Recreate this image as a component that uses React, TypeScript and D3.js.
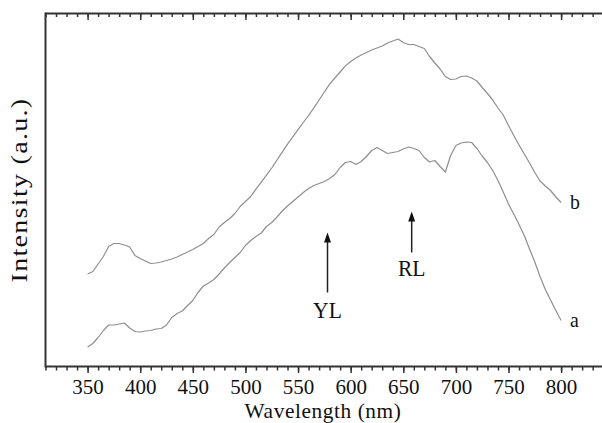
import React, { useEffect, useRef } from 'react';
import * as d3 from 'd3';

// wavelength grid (nm)
const wavelengths = [
  350, 355, 360, 365, 370, 375, 380, 385, 390, 395,
  400, 405, 410, 415, 420, 425, 430, 435, 440, 445,
  450, 455, 460, 465, 470, 475, 480, 485, 490, 495,
  500, 505, 510, 515, 520, 525, 530, 535, 540, 545,
  550, 555, 560, 565, 570, 575, 580, 585, 590, 595,
  600, 605, 610, 615, 620, 625, 630, 635, 640, 645,
  650, 655, 660, 665, 670, 675, 680, 685, 690, 695,
  700, 705, 710, 715, 720, 725, 730, 735, 740, 745,
  750, 755, 760, 765, 770, 775, 780, 785, 790, 795,
  800,
];

// spectrum a (lower curve), arbitrary units
const seriesA = [
  19.5, 23, 29, 36, 41.5, 41.5, 42.5, 43.5, 38.5, 35,
  34.5, 35.5, 36, 37.5, 38, 41.5, 49, 53, 55.5, 61,
  66, 74, 80.5, 83.5, 87, 92.5, 98.5, 104, 109, 114,
  121, 126, 130, 133.5, 140, 144, 149.5, 155.5, 160.5, 165,
  169.5, 174, 178, 181, 183, 185, 188, 192, 199, 204,
  205, 202, 205, 210, 216, 219, 216, 213, 214, 215,
  217.5, 219.5, 218, 216, 209, 204.5, 206, 200, 194.5, 211,
  221, 223.5, 224.5, 224, 218, 210.5, 204, 196, 186, 174.5,
  162.5, 152.5, 142, 131, 117.5, 104.5, 90, 77, 66.5, 56,
  46,
];

// spectrum b (upper curve), arbitrary units
const seriesB = [
  92.5, 95, 102.5, 110, 120, 123, 123, 121.5, 119.5, 111,
  108, 105.5, 103, 103.5, 104.5, 106, 107.5, 109.5, 112, 114.5,
  117, 120, 123, 128, 132, 139.5, 144, 148, 153, 160,
  165, 170, 177.3, 184.3, 191.3, 198.5, 206.5, 214.3, 222.3, 229.7,
  236.8, 244, 251, 258.7, 266.5, 274.5, 282.4, 288.5, 294.5, 300.6,
  305, 308.5, 311.5, 314, 316.5, 318.5, 320.5, 323.5, 325.5, 327.5,
  324, 322, 322, 320, 318, 310, 303.5, 297.5, 290, 287,
  287.5, 290, 290.5, 288.5, 285.5, 279, 273, 266.5, 258.5, 251.5,
  241, 231, 221.5, 212.5, 203.5, 194, 185.5, 180.5, 176, 169.5,
  164,
];

const majorTicks = [350, 400, 450, 500, 550, 600, 650, 700, 750, 800];

// arrow annotations (wavelength, tail, tip, label baseline)
const arrowLabels = ['YL', 'RL'];
const arrowWl = [578, 658];
const arrowTail = [74, 114];
const arrowTip = [134, 155];
const arrowText = [49, 91];

const FONT = '"Liberation Serif", "Times New Roman", serif';

const App = () => {
  const svgRef = useRef<SVGSVGElement>(null);

  useEffect(() => {
    const svg = d3.select(svgRef.current);
    svg.selectAll('*').remove();

    const width = 602;
    const height = 423;
    const top = 13.5;
    const bottom = 366.5;
    const left = 45.5;

    const x = d3.scaleLinear().domain([310, 840]).range([left, 603.2]);
    const y = d3.scaleLinear().domain([0, 353]).range([bottom, top]);

    svg.attr('width', width).attr('height', height);
    svg.append('rect').attr('width', width).attr('height', height).attr('fill', '#fff');

    const minorTicks = x.ticks(53);

    // bottom axis: minor + major ticks, labels
    const gb = svg.append('g').attr('transform', `translate(0,${bottom})`);
    gb.call(d3.axisBottom(x).tickValues(minorTicks).tickSize(4).tickFormat(() => ''));
    const gbMajor = svg.append('g').attr('transform', `translate(0,${bottom})`);
    gbMajor.call(d3.axisBottom(x).tickValues(majorTicks).tickSize(6.5).tickFormat(d3.format('d')));
    gbMajor.selectAll('text')
      .attr('y', 27)
      .attr('dy', 0)
      .attr('transform', 'scale(1,1)')
      .style('font-family', FONT)
      .style('font-size', '21px')
      .style('fill', '#111');

    // top axis: ticks pointing down into plot
    const gt = svg.append('g').attr('transform', `translate(0,${top})`);
    gt.call(d3.axisBottom(x).tickValues(minorTicks).tickSize(3.5).tickFormat(() => ''));
    const gtMajor = svg.append('g').attr('transform', `translate(0,${top})`);
    gtMajor.call(d3.axisBottom(x).tickValues(majorTicks).tickSize(6.5).tickFormat(() => ''));

    svg.selectAll('.domain').remove();
    svg.selectAll('.tick line').attr('stroke', '#333').attr('stroke-width', 1.5);

    // frame
    svg.append('line').attr('x1', left).attr('x2', width).attr('y1', top).attr('y2', top)
      .attr('stroke', '#333').attr('stroke-width', 2);
    svg.append('line').attr('x1', left).attr('x2', width).attr('y1', bottom).attr('y2', bottom)
      .attr('stroke', '#333').attr('stroke-width', 2);
    svg.append('line').attr('x1', left).attr('x2', left).attr('y1', top - 1).attr('y2', bottom + 1)
      .attr('stroke', '#333').attr('stroke-width', 2);

    // curves
    const line = d3.line<number>()
      .x((_, i) => x(wavelengths[i]))
      .y((d) => y(d));

    [seriesA, seriesB].forEach((s) => {
      svg.append('path')
        .datum(s)
        .attr('fill', 'none')
        .attr('stroke', '#8e8e8e')
        .attr('stroke-width', 1.2)
        .attr('stroke-linejoin', 'round')
        .attr('d', line);
    });

    // curve labels
    const last = wavelengths.length - 1;
    [['a', seriesA], ['b', seriesB]].forEach(([name, s]) => {
      const vals = s as number[];
      svg.append('text')
        .attr('transform', `translate(${x(wavelengths[last]) + 9},${y(vals[last]) + 6}) scale(0.9,1)`)
        .style('font-family', FONT)
        .style('font-size', '22px')
        .style('fill', '#111')
        .text(name as string);
    });

    // arrows
    arrowLabels.forEach((lab, i) => {
      const ax = x(arrowWl[i]);
      const tip = y(arrowTip[i]);
      svg.append('line')
        .attr('x1', ax).attr('x2', ax)
        .attr('y1', y(arrowTail[i])).attr('y2', tip + 8)
        .attr('stroke', '#222').attr('stroke-width', 1.5);
      svg.append('path')
        .attr('d', `M${ax},${tip} L${ax - 3.5},${tip + 10} L${ax + 3.5},${tip + 10} Z`)
        .attr('fill', '#111');
      svg.append('text')
        .attr('transform', `translate(${ax},${y(arrowText[i])}) scale(0.9,1)`)
        .attr('text-anchor', 'middle')
        .style('font-family', FONT)
        .style('font-size', '24px')
        .style('fill', '#111')
        .text(lab);
    });

    // axis titles
    svg.append('text')
      .attr('transform', `translate(323,417.5) scale(0.97,1)`)
      .attr('text-anchor', 'middle')
      .style('font-family', FONT)
      .style('font-size', '22px')
      .style('letter-spacing', '0.6px')
      .style('fill', '#111')
      .text('Wavelength (nm)');

    svg.append('text')
      .attr('transform', `translate(26.5,190) scale(0.85,1) rotate(-90)`)
      .attr('text-anchor', 'middle')
      .style('font-family', FONT)
      .style('font-size', '28px')
      .style('letter-spacing', '1.3px')
      .style('fill', '#111')
      .text('Intensity (a.u.)');
  }, []);

  return (
    <svg ref={svgRef} style={{ position: 'absolute', left: 0, top: 0 }}></svg>
  );
};

export default App;
